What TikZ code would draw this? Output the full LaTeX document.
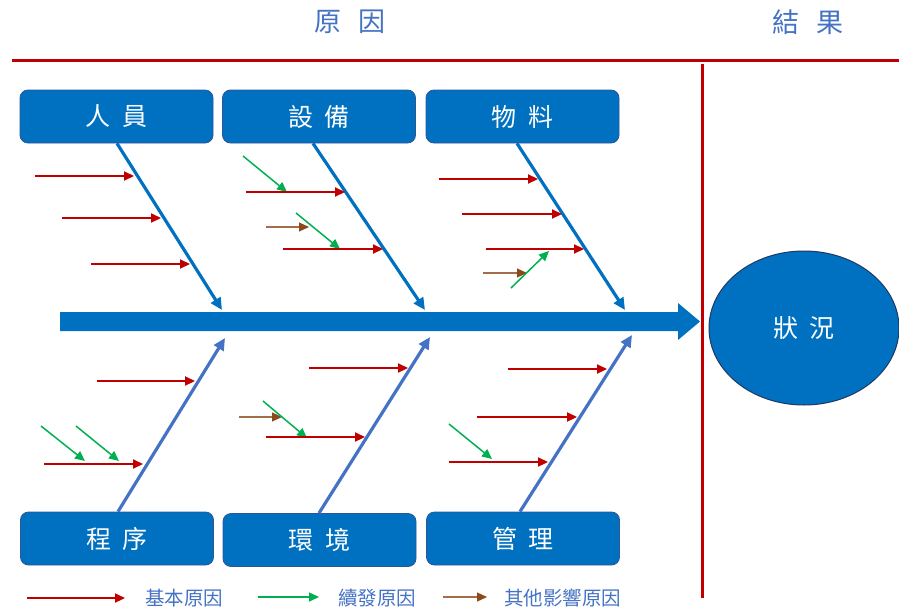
\documentclass[tikz,border=0pt]{standalone}
\usepackage{fontspec}
\newfontfamily\cjk{Noto Sans CJK TC}
\usetikzlibrary{arrows.meta,shapes.geometric,calc}
\definecolor{dblue}{HTML}{0070C0}
\definecolor{lblue}{HTML}{4472C4}
\definecolor{edgeblue}{HTML}{2F5597}
\definecolor{navy}{HTML}{1F3864}
\definecolor{myred}{HTML}{C00000}
\definecolor{mygreen}{HTML}{00B050}
\definecolor{mybrown}{HTML}{8B4A1C}
\definecolor{txtblue}{HTML}{4472C4}
\tikzset{
  catbox/.style={draw=edgeblue, line width=0.8pt, fill=dblue, rounded corners=8pt,
    minimum width=193pt, minimum height=53pt, inner sep=0pt, text=white,
    font=\cjk\fontsize{25}{25}\selectfont},
  topbranch/.style={draw=dblue, line width=3.2pt, -{Triangle[length=12pt,width=11pt]}},
  botbranch/.style={draw=lblue, line width=3.2pt, -{Triangle[length=12pt,width=11pt]}},
  basic/.style={draw=myred, line width=2.2pt, -{Triangle[length=10pt,width=9pt]}},
  cont/.style={draw=mygreen, line width=1.5pt, -{Triangle[length=10pt,width=9pt]}},
  other/.style={draw=mybrown!80, line width=1.2pt, arrows={-{Triangle[length=10pt,width=9pt,fill=mybrown,color=mybrown]}}},
  divider/.style={draw=myred, line width=3pt},
  head/.style={text=txtblue, font=\cjk\fontsize{27}{27}\selectfont},
  legtext/.style={text=txtblue, font=\cjk\fontsize{19.5}{19.5}\selectfont, anchor=west, inner sep=0pt}
}
\begin{document}
\begin{tikzpicture}[x=1pt,y=-1pt]
\useasboundingbox (0,0) rectangle (899,610);
% headers
\node[head] (hcause) at (350,22) {原\hspace{0.65em}因};
\node[head] (heffect) at (808,22) {結\hspace{0.65em}果};
% dividers
\coordinate (hl1) at (12,61); \coordinate (hl2) at (899,61);
\coordinate (vl1) at (702,64); \coordinate (vl2) at (702,598);
\draw[divider] (hl1) -- (hl2);
\draw[divider] (vl1) -- (vl2);
% spine
\fill[dblue] (60,312) -- (678,312) -- (678,303) -- (700,321.5) -- (678,340) -- (678,331) -- (60,331) -- cycle;
% effect
\node[ellipse, draw=navy, line width=1pt, fill=dblue, minimum width=190pt, minimum height=154pt, text=white,
  font=\cjk\fontsize{25}{25}\selectfont] (eff) at (804,328) {狀\hspace{0.45em}況};
% boxes
\node[catbox] (ry) at (116.5,116.5) {人\hspace{0.45em}員};
\node[catbox] (sb) at (319,116.5) {設\hspace{0.45em}備};
\node[catbox] (wl) at (522.5,116.5) {物\hspace{0.45em}料};
\node[catbox] (cx) at (117,538.5) {程\hspace{0.45em}序};
\node[catbox] (hj) at (319.5,540) {環\hspace{0.45em}境};
\node[catbox] (gl) at (523,538.5) {管\hspace{0.45em}理};
% branch tips
\coordinate (t1) at (222,310); \coordinate (t2) at (425,310); \coordinate (t3) at (625,310);
\coordinate (b1) at (225,338); \coordinate (b2) at (430,337); \coordinate (b3) at (632,335);
\draw[topbranch] ($(ry.south)+(0.5,0)$) -- (t1);
\draw[topbranch] ($(sb.south)+(-6,0)$) -- (t2);
\draw[topbranch] ($(wl.south)+(-5.5,0)$) -- (t3);
\draw[botbranch] ($(cx.north)+(1,0)$) -- (b1);
\draw[botbranch] ($(hj.north)+(-0.5,0)$) -- (b2);
\draw[botbranch] ($(gl.north)+(-3,0)$) -- (b3);
% 人員
\draw[basic] (35,176) -- (134,176);
\draw[basic] (62,218) -- (161,218);
\draw[basic] (91,264) -- (190,264);
% 設備
\draw[cont] (243,156) -- (287,192);
\draw[basic] (246,192) -- (345,192);
\draw[other] (266,227) -- (309,227);
\draw[cont] (296,213) -- (340,249);
\draw[basic] (283,249) -- (383,249);
% 物料
\draw[basic] (439,179) -- (538,179);
\draw[basic] (462,214) -- (562,214);
\draw[basic] (486,249) -- (584,249);
\draw[other] (483,273) -- (527,273);
\draw[cont] (511,288) -- (549,251);
% 程序
\draw[basic] (97,381) -- (195,381);
\draw[basic] (44,464) -- (143,464);
\draw[cont] (41,426) -- (85,461);
\draw[cont] (76,426) -- (119,461);
% 環境
\draw[basic] (309,368) -- (408,368);
\draw[other] (239,417) -- (282,417);
\draw[cont] (263,401) -- (307,438);
\draw[basic] (266,437) -- (365,437);
% 管理
\draw[basic] (508,369) -- (607,369);
\draw[basic] (477,417) -- (577,417);
\draw[basic] (449,462) -- (548,462);
\draw[cont] (449,424) -- (492,459);
% legend
\coordinate (l1a) at (27,598); \coordinate (l1b) at (125,598);
\coordinate (l2a) at (258,597); \coordinate (l2b) at (319,597);
\coordinate (l3a) at (443,597); \coordinate (l3b) at (487,597);
\draw[basic] (l1a) -- (l1b);
\draw[cont] (l2a) -- (l2b);
\draw[other] (l3a) -- (l3b);
\node[legtext] (lg1) at (145,598) {基本原因};
\node[legtext] (lg2) at (338,598) {續發原因};
\node[legtext] (lg3) at (504,598) {其他影響原因};
\end{tikzpicture}
\end{document}
